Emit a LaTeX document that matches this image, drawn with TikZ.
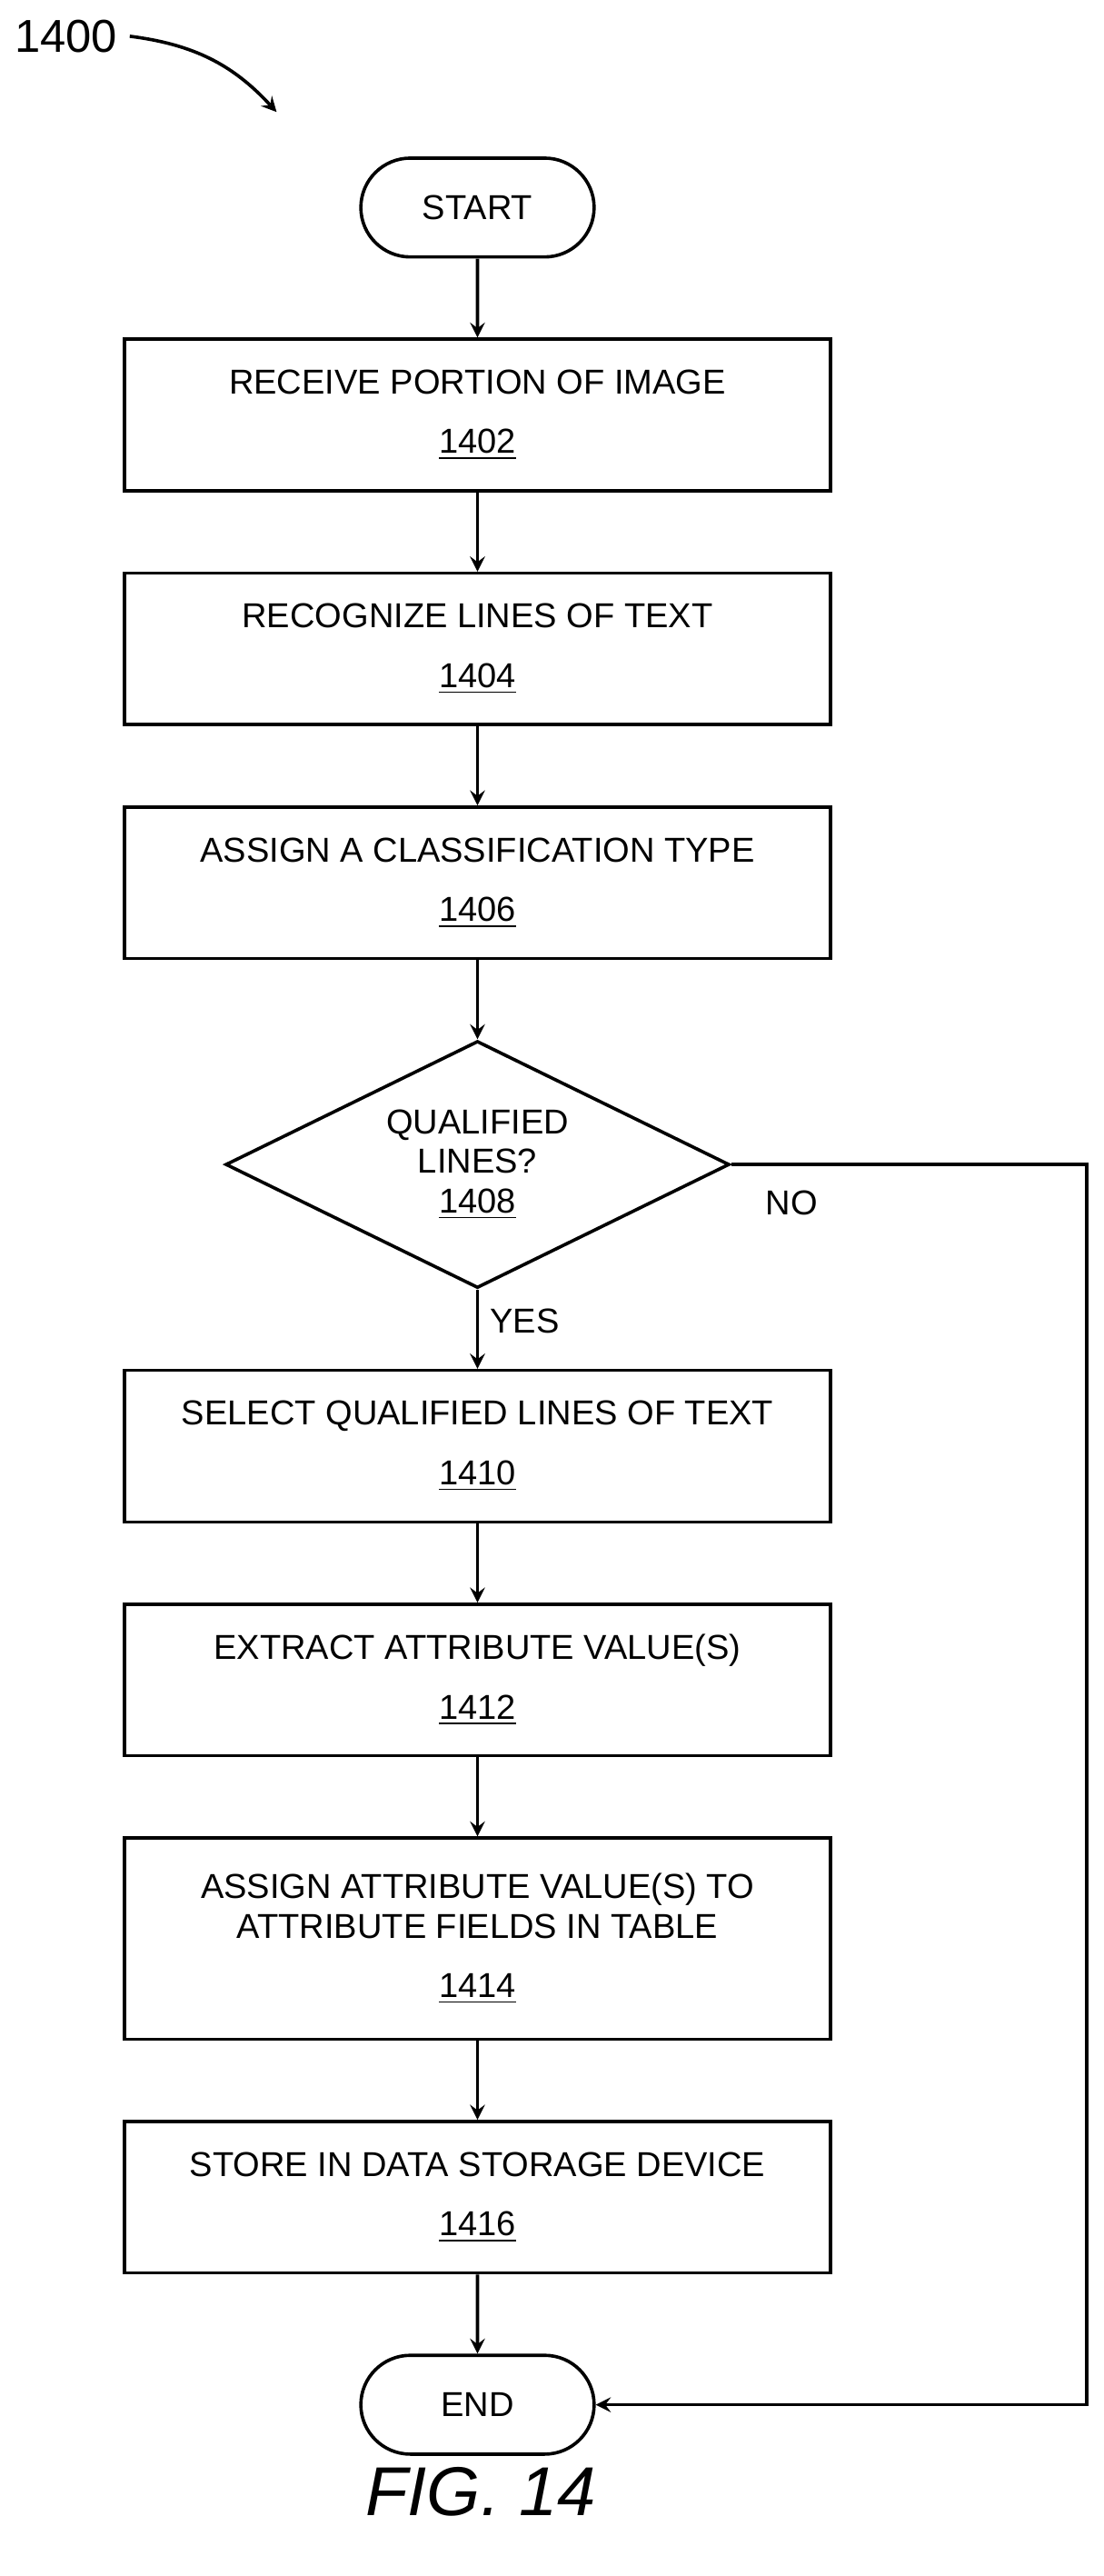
\documentclass[tikz,border=0pt]{standalone}
\usepackage{fontspec}
\setmainfont{Liberation Sans}
\usetikzlibrary{arrows}
\usetikzlibrary{positioning,shapes}

\begin{document}
\begin{tikzpicture} [x=0.5pt,y=-0.5pt,->,>=stealth,node distance=24pt,line width=1pt,
    font=\fontsize{10.5}{12}\selectfont,
    box/.style={rectangle,draw,minimum width=214.5pt,minimum height=46pt,align=center,inner sep=2pt},
    term/.style={rounded rectangle,draw,minimum width=77.5pt,minimum height=30pt},
    test/.style={diamond,draw,aspect=2,minimum width=153pt,minimum height=75pt,inner sep=0pt,align=center}]

  \useasboundingbox (0,0) rectangle (670,1564);

  \node[term] (start) at (290,126) {START};
  \node[box] (1402) [below=of start] {RECEIVE PORTION OF IMAGE\\[6pt]\underline{1402}};
  \node[box] (1404) [below=of 1402] {RECOGNIZE LINES OF TEXT\\[6pt]\underline{1404}};
  \node[box] (1406) [below=of 1404] {ASSIGN A CLASSIFICATION TYPE\\[6pt]\underline{1406}};
  \node[test] (1408) [below=of 1406] {QUALIFIED\\LINES?\\\underline{1408}};
  \node[box] (1410) [below=of 1408] {SELECT QUALIFIED LINES OF TEXT\\[6pt]\underline{1410}};
  \node[box] (1412) [below=of 1410] {EXTRACT ATTRIBUTE VALUE(S)\\[6pt]\underline{1412}};
  \node[box] (1414) [below=of 1412, minimum height=61pt] {ASSIGN ATTRIBUTE VALUE(S) TO\\ATTRIBUTE FIELDS IN TABLE\\[6pt]\underline{1414}};
  \node[box] (1416) [below=of 1414] {STORE IN DATA STORAGE DEVICE\\[6pt]\underline{1416}};
  \node[term] (end) [below=of 1416] {END};

  \coordinate (corner) at (660,0);

  \path
    (start) edge (1402)
    (1402) edge (1404)
    (1404) edge (1406)
    (1406) edge (1408)
    (1408) edge node [right, pos=0.4] {YES} (1410)
    (1410) edge (1412)
    (1412) edge (1414)
    (1414) edge (1416)
    (1416) edge (end);
  \draw (1408.east) -- (corner |- 1408.east) node [pos=0.17, below=4pt] {NO}
    -- (corner |- end) -- (end.east);

  \node[font=\fontsize{14}{16}\selectfont] (fig) at (40,22) {1400};
  \draw (fig.east) to [bend left=20] (168,68);
  \node[font=\fontsize{21}{24}\selectfont\itshape] (caption) at (292,1513) {FIG. 14};

\end{tikzpicture}
\end{document}
